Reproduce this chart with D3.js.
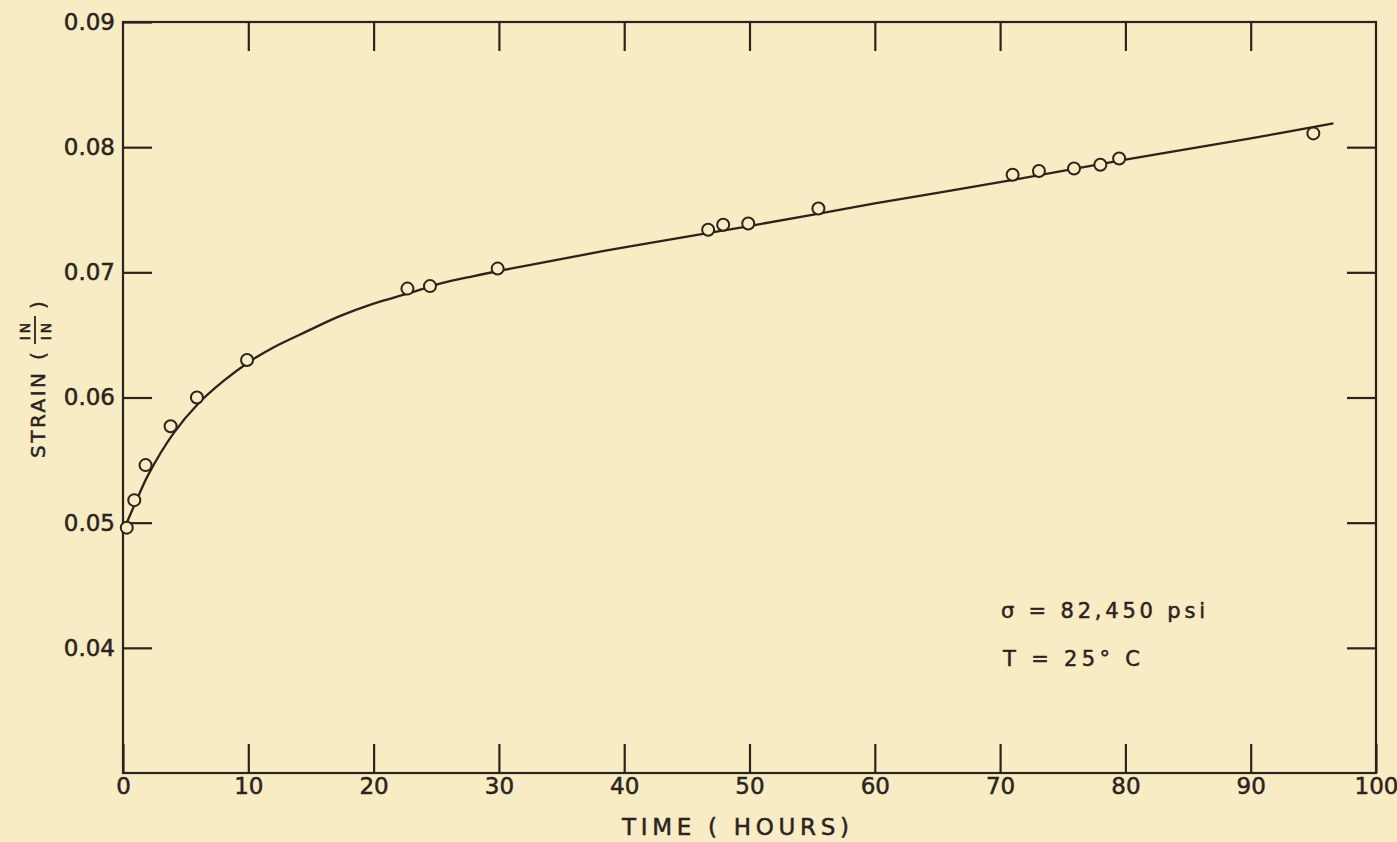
<!DOCTYPE html>
<html>
<head>
<meta charset="utf-8">
<script src="https://cdn.jsdelivr.net/npm/d3@7"></script>
<style>
  html, body { margin: 0; padding: 0; background: #f7ecc4; }
  svg { display: block; }
  text { font-family: "DejaVu Sans", sans-serif; fill: #2b231d; stroke: #2b231d; stroke-width: 0.5; }
</style>
</head>
<body>
<svg id="chart" width="1397" height="842"></svg>
<script>
// measured points, time (hours) vs strain (in/in)
const hours = [0.3, 0.9, 1.8, 3.8, 5.9, 9.9, 22.7, 24.5, 29.9, 46.7, 47.9, 49.9, 55.5, 71.0, 73.1, 75.9, 78.0, 79.5, 95.0];
const strain = [0.0496, 0.0518, 0.0546, 0.0577, 0.0600, 0.0630, 0.0687, 0.0689, 0.0703, 0.0734, 0.0738, 0.0739, 0.0751, 0.0778, 0.0781, 0.0783, 0.0786, 0.0791, 0.0811];

// faired curve drawn through the points
const curveHours = [0.3, 1, 2, 4, 6, 8, 10, 12, 14.7, 17.3, 20, 22.7, 25.3, 28, 32, 40, 50, 60, 70, 80, 90, 96.6];
const curveStrain = [0.0500, 0.0516, 0.0538, 0.0571, 0.0595, 0.0613, 0.0628, 0.0640, 0.0653, 0.0665, 0.0675, 0.0683, 0.0691, 0.0697, 0.0705, 0.0720, 0.0737, 0.0755, 0.0772, 0.0790, 0.0807, 0.0819];

const xTicks = [0, 10, 20, 30, 40, 50, 60, 70, 80, 90, 100];
const yTicks = [0.04, 0.05, 0.06, 0.07, 0.08, 0.09];

const ink = '#2b231d';
const paper = '#f7ecc4';
const margin = { left: 123, top: 22, right: 21, bottom: 69 };
const width = 1397 - margin.left - margin.right;
const height = 842 - margin.top - margin.bottom;

const svg = d3.select('#chart');
const g = svg.append('g').attr('transform', `translate(${margin.left},${margin.top})`);

const x = d3.scaleLinear().domain([0, 100]).range([0, width]);
const y = d3.scaleLinear().domain([0.03, 0.09]).range([height, 0]);

// frame
g.append('rect')
    .attr('width', width).attr('height', height)
    .attr('fill', 'none').attr('stroke', ink).attr('stroke-width', 2.2);

// inward ticks on all four sides
const tickLen = 29;
g.append('g').attr('transform', `translate(0,${height})`)
    .call(d3.axisBottom(x).tickValues(xTicks).tickSize(-tickLen).tickPadding(5).tickFormat(d3.format('d')))
    .call(a => a.select('.domain').remove());
g.append('g')
    .call(d3.axisTop(x).tickValues(xTicks.slice(1, -1)).tickSize(-tickLen).tickFormat(''))
    .call(a => a.select('.domain').remove());
g.append('g')
    .call(d3.axisLeft(y).tickValues(yTicks).tickSize(-tickLen).tickPadding(8).tickFormat(d3.format('.2f')))
    .call(a => a.select('.domain').remove());
g.append('g').attr('transform', `translate(${width},0)`)
    .call(d3.axisRight(y).tickValues(yTicks.slice(0, -1)).tickSize(-tickLen).tickFormat(''))
    .call(a => a.select('.domain').remove());

g.selectAll('.tick line').attr('stroke', ink).attr('stroke-width', 2.2);
g.selectAll('.tick text').attr('font-size', 23).attr('fill', ink)
    .attr('font-family', '"DejaVu Sans", sans-serif');

// curve
const curveData = curveHours.map((h, i) => ({ h: h, s: curveStrain[i] }));
g.append('path')
    .datum(curveData)
    .attr('fill', 'none').attr('stroke', ink).attr('stroke-width', 2.3)
    .attr('d', d3.line().x(d => x(d.h)).y(d => y(d.s)).curve(d3.curveCatmullRom.alpha(0.5)));

// data points
const pts = hours.map((h, i) => ({ h: h, s: strain[i] }));
g.selectAll('circle.pt')
    .data(pts)
    .join('circle')
    .attr('class', 'pt')
    .attr('cx', d => x(d.h)).attr('cy', d => y(d.s))
    .attr('r', 6)
    .attr('fill', paper).attr('stroke', ink).attr('stroke-width', 2);

// axis titles
svg.append('text')
    .attr('x', 622).attr('y', 835)
    .attr('font-size', 23)
    .attr('textLength', 227).attr('lengthAdjust', 'spacing')
    .text('TIME  ( HOURS)');

const yl = svg.append('g').attr('transform', 'translate(46,460) rotate(-90)');
yl.append('text').attr('x', 2).attr('y', -1).attr('font-size', 20)
    .attr('textLength', 85).attr('lengthAdjust', 'spacing')
    .text('STRAIN');
yl.append('text').attr('x', 100).attr('y', -1).attr('font-size', 20).text('(');
yl.append('text').attr('x', 130).attr('y', -16).attr('font-size', 14).attr('text-anchor', 'middle')
    .attr('letter-spacing', 3).text('IN');
yl.append('line').attr('x1', 116).attr('x2', 144).attr('y1', -11).attr('y2', -11)
    .attr('stroke', ink).attr('stroke-width', 1.8);
yl.append('text').attr('x', 130).attr('y', 5).attr('font-size', 14).attr('text-anchor', 'middle')
    .attr('letter-spacing', 3).text('IN');
yl.append('text').attr('x', 151).attr('y', -1).attr('font-size', 20).text(')');

// test conditions
svg.append('text').attr('x', 1001).attr('y', 618).attr('font-size', 21)
    .attr('textLength', 204).attr('lengthAdjust', 'spacing')
    .text('σ = 82,450 psi');
svg.append('text').attr('x', 1003).attr('y', 666).attr('font-size', 21)
    .attr('textLength', 137).attr('lengthAdjust', 'spacing')
    .text('T = 25° C');
</script>
</body>
</html>
